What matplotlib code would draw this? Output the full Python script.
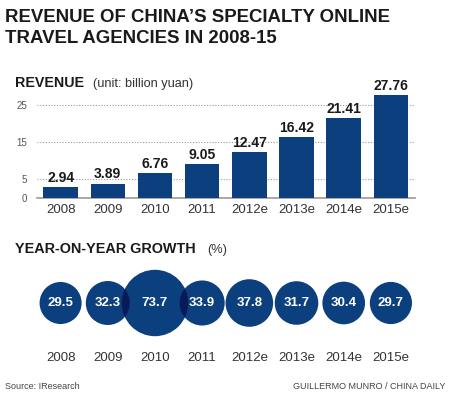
import matplotlib
matplotlib.use("Agg")
import matplotlib.pyplot as plt
from matplotlib.patches import Circle
import numpy as np

years = ["2008", "2009", "2010", "2011", "2012e", "2013e", "2014e", "2015e"]
revenue = [2.94, 3.89, 6.76, 9.05, 12.47, 16.42, 21.41, 27.76]
growth = [29.5, 32.3, 73.7, 33.9, 37.8, 31.7, 30.4, 29.7]
yticks = [0, 5, 15, 25]

blue = "#0b3f7e"
overlap = "#0a1a58"
dark = "#1a1a1a"

plt.rcParams["font.family"] = ["Liberation Sans", "DejaVu Sans"]

W, H = 450, 395
fig = plt.figure(figsize=(W / 100, H / 100), dpi=100)

def fx(px):
    return px / W

def fy(py):
    return 1 - py / H

# titles
fig.text(fx(5), fy(22), "REVENUE OF CHINA\u2019S SPECIALTY ONLINE", fontsize=13.4,
         fontweight="bold", color=dark, va="baseline")
fig.text(fx(5), fy(43), "TRAVEL AGENCIES IN 2008-15", fontsize=13.4,
         fontweight="bold", color=dark, va="baseline")
fig.text(fx(15), fy(87), "REVENUE", fontsize=10.3, fontweight="bold", color=dark, va="baseline")
fig.text(fx(93), fy(87), "(unit: billion yuan)", fontsize=9.2, color="#333333", va="baseline")
fig.text(fx(15), fy(253), "YEAR-ON-YEAR GROWTH", fontsize=10.4, fontweight="bold",
         color=dark, va="baseline")
fig.text(fx(207), fy(253), "(%)", fontsize=9.2, color="#333333", va="baseline")
fig.text(fx(5), fy(389), "Source: IResearch", fontsize=6.5, color="#444444", va="baseline")
fig.text(fx(445), fy(389), "GUILLERMO MUNRO / CHINA DAILY", fontsize=6.5, color="#444444",
         va="baseline", ha="right")

# bar chart
x = np.arange(len(years))
left, right = 37, 414.5
ppu_y = 3.72
y0 = 198
ytop = 30
ax = fig.add_axes([fx(left), fy(y0), fx(right - left), ytop * ppu_y / H])
ax.bar(x, revenue, width=0.73, color=blue, zorder=3)
for xi, v in zip(x, revenue):
    ax.annotate(f"{v:.2f}", (xi, v), xytext=(0, 1.5), textcoords="offset points",
                ha="center", va="bottom", fontsize=10, fontweight="bold", color=dark)
ax.set_xlim(-0.5, 7.5)
ax.set_ylim(0, ytop)
ax.set_yticks(yticks)
ax.tick_params(axis="y", length=0, labelsize=7, labelcolor="#555555", pad=7)
ax.set_xticks(x, years)
ax.tick_params(axis="x", length=0, labelsize=9.5, labelcolor="#333333", pad=4)
for g in yticks[1:]:
    ax.axhline(g, color="#999999", linestyle=(0, (1, 1.5)), linewidth=0.8, zorder=1)
for s in ["top", "right", "left"]:
    ax.spines[s].set_visible(False)
ax.spines["bottom"].set_color("#999999")
ax.spines["bottom"].set_linewidth(1.2)

# bubbles (area proportional to growth)
btop, bbot = 260, 346
ax2 = fig.add_axes([fx(left), fy(bbot), fx(right - left), (bbot - btop) / H])
ppu_x = (right - left) / 8
half = (bbot - btop) / 2 / ppu_x
ax2.set_xlim(-0.5, 7.5)
ax2.set_ylim(-half, half)
radii = [0.082 * np.sqrt(v) for v in growth]
circles = []
for xi, r in zip(x, radii):
    c = Circle((xi, 0), r, color=blue, clip_on=False, zorder=2, linewidth=0)
    ax2.add_patch(c)
    circles.append(c)
for i in range(len(x) - 1):
    o = Circle((x[i + 1], 0), radii[i + 1], color=overlap, zorder=3, linewidth=0)
    ax2.add_patch(o)
    o.set_clip_path(circles[i])
for xi, v in zip(x, growth):
    ax2.text(xi, 0, f"{v}", ha="center", va="center", fontsize=9.5, fontweight="bold",
             color="white", zorder=4)
ax2.set_xticks(x, years)
ax2.set_yticks([])
ax2.tick_params(axis="x", length=0, labelsize=9.5, labelcolor="#333333", pad=4)
for s in ax2.spines.values():
    s.set_visible(False)

fig.savefig("out.png", dpi=100)
